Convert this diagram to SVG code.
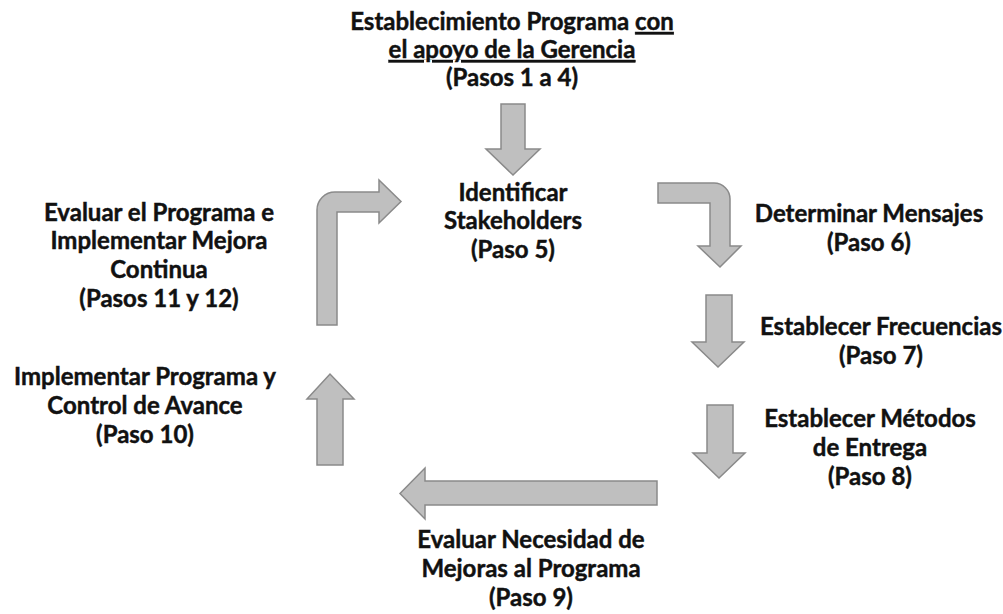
<svg xmlns="http://www.w3.org/2000/svg" width="1003" height="614" viewBox="0 0 1003 614">
<style>
.lbl{font-family:Lato,"Open Sans","Liberation Sans",sans-serif;font-weight:bold;font-size:24px;fill:#111;stroke:#111;stroke-width:0.45;text-anchor:middle}
.arr{fill:#bfbfbf;stroke:#8a8a8a;stroke-width:1.5;stroke-linejoin:miter}
.u{text-decoration:underline}
</style>
<rect width="1003" height="614" fill="#fff"/>
<g id="connectors">
<path class="arr" d="M501,104 H525 V149 H540 L513,175 L486,149 H501 Z"/>
<path class="arr" d="M317,325 V210 A18,18 0 0 1 335,192 H379 V180 L401,201.5 L379,223 V212 H337 V325 Z"/>
<path class="arr" d="M658,183 H714 A16,16 0 0 1 730,199 V246 H741 L720,267 L698,246 H710 V203 H658 Z"/>
<path class="arr" d="M706,295 H732 V342 H744 L718,367 L692,342 H706 Z"/>
<path class="arr" d="M707,405 H733 V453 H745 L719,478 L693,453 H707 Z"/>
<path class="arr" d="M657,481 V505 H425 V519 L400,493.5 L425,468 V481 Z"/>
<path class="arr" d="M317,465 V399 H307 L330,374 L354,399 H343 V465 Z"/>
</g>
<g id="n1">
<text class="lbl" x="512" y="30">Establecimiento Programa <tspan class="u">con</tspan></text>
<text class="lbl" x="512" y="58"><tspan class="u">el apoyo de la Gerencia</tspan></text>
<text class="lbl" x="512" y="86">(Pasos 1 a 4)</text>
</g>
<g id="n5">
<text class="lbl" x="513" y="201">Identificar</text>
<text class="lbl" x="513" y="229">Stakeholders</text>
<text class="lbl" x="513" y="258">(Paso 5)</text>
</g>
<g id="n6">
<text class="lbl" x="869" y="222">Determinar Mensajes</text>
<text class="lbl" x="869" y="251">(Paso 6)</text>
</g>
<g id="n7">
<text class="lbl" x="881" y="335">Establecer Frecuencias</text>
<text class="lbl" x="881" y="364">(Paso 7)</text>
</g>
<g id="n8">
<text class="lbl" x="870" y="427">Establecer Métodos</text>
<text class="lbl" x="870" y="456">de Entrega</text>
<text class="lbl" x="870" y="485">(Paso 8)</text>
</g>
<g id="n9">
<text class="lbl" x="531" y="548">Evaluar Necesidad de</text>
<text class="lbl" x="531" y="577">Mejoras al Programa</text>
<text class="lbl" x="531" y="606">(Paso 9)</text>
</g>
<g id="n10">
<text class="lbl" x="145" y="385">Implementar Programa y</text>
<text class="lbl" x="145" y="414">Control de Avance</text>
<text class="lbl" x="145" y="443">(Paso 10)</text>
</g>
<g id="n11">
<text class="lbl" x="159" y="221">Evaluar el Programa e</text>
<text class="lbl" x="159" y="249">Implementar Mejora</text>
<text class="lbl" x="159" y="278">Continua</text>
<text class="lbl" x="159" y="307">(Pasos 11 y 12)</text>
</g>
</svg>
